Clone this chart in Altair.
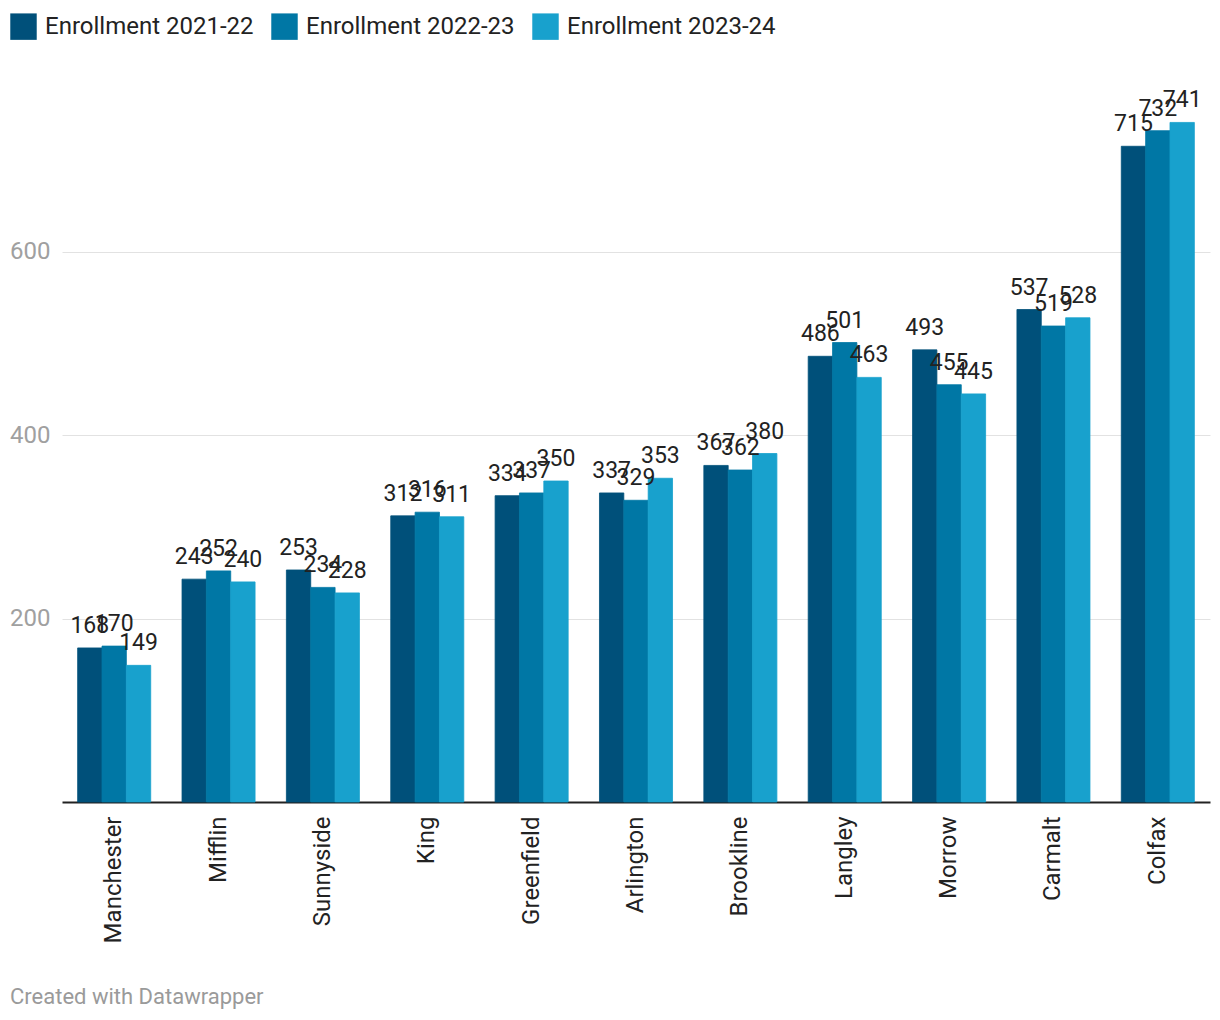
import altair as alt
import pandas as pd

schools = ["Manchester", "Mifflin", "Sunnyside", "King", "Greenfield", "Arlington",
           "Brookline", "Langley", "Morrow", "Carmalt", "Colfax"]
series = ["Enrollment 2021-22", "Enrollment 2022-23", "Enrollment 2023-24"]
v2122 = [168, 243, 253, 312, 334, 337, 367, 486, 493, 537, 715]
v2223 = [170, 252, 234, 316, 337, 329, 362, 501, 455, 519, 732]
v2324 = [149, 240, 228, 311, 350, 353, 380, 463, 445, 528, 741]
colors = ["#00507a", "#0077a5", "#18a1cd"]

rows = []
for s, vals in zip(series, [v2122, v2223, v2324]):
    for sc, v in zip(schools, vals):
        rows.append({"school": sc, "series": s, "value": v})
df = pd.DataFrame(rows)

FONT = "Roboto"

x = alt.X("school:N", sort=schools, title=None,
          scale=alt.Scale(paddingInner=0.3, paddingOuter=0.15),
          axis=alt.Axis(labelAngle=-90, labelAlign="right", labelBaseline="middle",
                        labelFontSize=24, labelColor="#222", labelFont=FONT,
                        labelPadding=14, ticks=False, domainColor="#222",
                        domainWidth=2, grid=False))
y = alt.Y("value:Q", title=None,
          scale=alt.Scale(domain=[0, 760], nice=False),
          axis=alt.Axis(values=[200, 400, 600], labelFontSize=24, labelColor="#a0a0a0",
                        labelFont=FONT, labelPadding=12, ticks=False, domain=False,
                        gridColor="#e2e2e2", gridWidth=1))
xo = alt.XOffset("series:N", sort=series)
color = alt.Color("series:N", sort=series,
                  scale=alt.Scale(domain=series, range=colors),
                  legend=alt.Legend(title=None, orient="none", legendX=-52, legendY=-92,
                                    direction="horizontal", symbolType="square",
                                    symbolSize=700, symbolStrokeWidth=0, symbolOpacity=1,
                                    labelFontSize=24, labelFont=FONT, labelColor="#222",
                                    labelOffset=8, columnPadding=17, labelLimit=400))
stroke = alt.Stroke("series:N", sort=series,
                    scale=alt.Scale(domain=series, range=colors), legend=None)

bars = alt.Chart(df).mark_bar(strokeWidth=0.8).encode(
    x=x, y=y, xOffset=xo, color=color, stroke=stroke)
labels = alt.Chart(df).mark_text(baseline="alphabetic", dy=-15, fontSize=23,
                                 font=FONT, color="#222").encode(
    x=alt.X("school:N", sort=schools), y="value:Q", xOffset=xo, text="value:Q")
footer = alt.Chart(pd.DataFrame({"t": ["Created with Datawrapper"]})).mark_text(
    align="left", baseline="middle", fontSize=22, font=FONT, color="#9a9a9a").encode(
    text="t:N", x=alt.value(-52), y=alt.value(892))

chart = alt.layer(bars, labels, footer).properties(
    width=1148, height=697,
    background="white",
    autosize=alt.AutoSizeParams(type="none"),
    padding={"left": 62, "top": 105, "right": 10, "bottom": 218},
).configure_view(strokeWidth=0, stroke="transparent")

chart.save("out.html", embed_options={"renderer": "svg", "actions": False})
